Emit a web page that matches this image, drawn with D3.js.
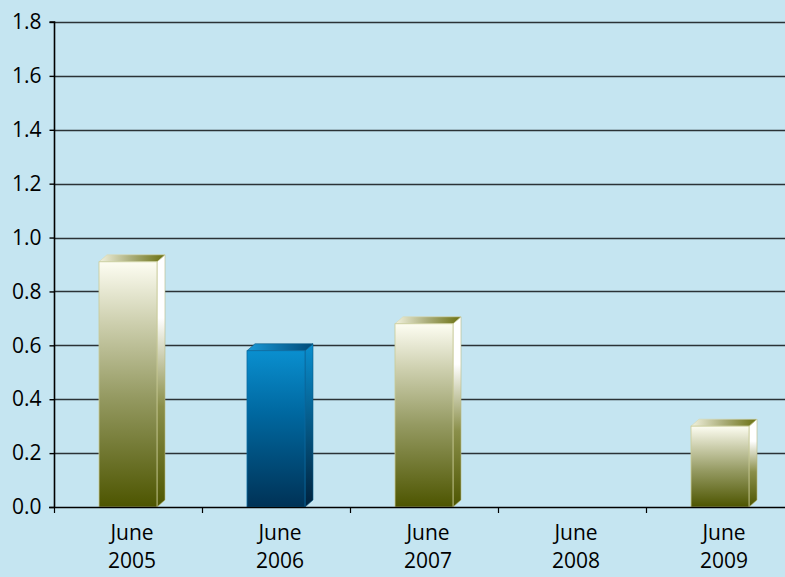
<!DOCTYPE html>
<html><head><meta charset="utf-8">
<script src="https://cdn.jsdelivr.net/npm/d3@7"></script>
<style>html,body{margin:0;padding:0;background:#c5e5f1;overflow:hidden}</style>
</head><body>
<script>
const categories = ["June 2005","June 2006","June 2007","June 2008","June 2009"];
const values = [0.91, 0.58, 0.68, null, 0.30];
const highlight = [false, true, false, false, false];
const yTicks = [0,0.2,0.4,0.6,0.8,1.0,1.2,1.4,1.6,1.8];

const W=785,H=577;
const svg=d3.select("body").append("svg").attr("width",W).attr("height",H);
svg.append("rect").attr("width",W).attr("height",H).attr("fill","#c5e5f1");
const m={l:54,t:22,b:507,r:794};
const x=d3.scaleBand().domain(categories).range([m.l,m.r]).paddingInner(0).paddingOuter(0);
const y=d3.scaleLinear().domain([0,1.8]).range([m.b,m.t]);

const defs=svg.append("defs");
function lg(id,x1,y1,x2,y2,stops){const g=defs.append("linearGradient").attr("id",id).attr("x1",x1).attr("y1",y1).attr("x2",x2).attr("y2",y2);
 stops.forEach(s=>g.append("stop").attr("offset",s[0]).attr("stop-color",s[1]));}
lg("oF",0,0,0,1,[[0,"#fdfdf2"],[0.25,"#cdcfae"],[0.55,"#959a62"],[1,"#4d5500"]]);
lg("oS",0,0,0,1,[[0,"#ffffff"],[0.25,"#ffffff"],[0.6,"#8a8f4a"],[1,"#4d5500"]]);
lg("oT",0,0,1,0,[[0,"#f2f2de"],[0.5,"#a9ac78"],[1,"#6a7010"]]);
lg("bF",0,0,0,1,[[0,"#0a8fcf"],[0.4,"#0068a0"],[1,"#003256"]]);
lg("bS",0,0,0,1,[[0,"#0a8fcf"],[1,"#00223d"]]);
lg("bT",0,0,1,0,[[0,"#1a9ad8"],[1,"#004a78"]]);

const FONT="'Open Sans',sans-serif", FS=21;

// gridlines
svg.append("g").selectAll("line").data(yTicks.filter(d=>d>0)).join("line")
 .attr("x1",m.l).attr("x2",W).attr("y1",d=>Math.round(y(d))+0.5).attr("y2",d=>Math.round(y(d))+0.5)
 .attr("stroke","#2b3236").attr("stroke-width",1.6);

// y axis
const ya=svg.append("g").attr("transform",`translate(${m.l+0.5},0)`).call(d3.axisLeft(y).tickValues(yTicks).tickFormat(d3.format(".1f")).tickSize(5).tickPadding(8));
ya.attr("font-size",null).attr("font-family",null);
ya.select(".domain").attr("stroke","#000").attr("stroke-width",1.6).attr("d",`M-5,${m.t}H0V${m.b}`);
ya.selectAll(".tick line").attr("stroke","#000").attr("stroke-width",1.4);
ya.selectAll("text").style("font-family",FONT).style("font-size",FS+"px").attr("fill","#000");

// bars
const fw=58, dx=8, dy=7;
const bars=svg.append("g");
categories.forEach((c,i)=>{
 const v=values[i]; if(v==null) return;
 const cx=x(c)+x.bandwidth()/2, x0=cx-fw/2, x1=cx+fw/2, yt=y(v), yb=y(0);
 const hl=highlight[i];
 const g=bars.append("g");
 g.append("path").attr("d",`M${x1},${yt}L${x1+dx},${yt-dy}L${x1+dx},${yb-dy}L${x1},${yb}Z`).attr("fill",`url(#${hl?"bS":"oS"})`).attr("stroke",hl?"#0c5a86":"#b8bb80").attr("stroke-width",0.6);
 g.append("path").attr("d",`M${x0},${yt}L${x0+dx},${yt-dy}L${x1+dx},${yt-dy}L${x1},${yt}Z`).attr("fill",`url(#${hl?"bT":"oT"})`).attr("stroke",hl?"#0c5a86":"#d8d9b0").attr("stroke-width",0.6);
 g.append("rect").attr("x",x0).attr("y",yt).attr("width",fw).attr("height",yb-yt).attr("fill",`url(#${hl?"bF":"oF"})`).attr("stroke",hl?"#0b6aa0":"#c9cb96").attr("stroke-width",0.8);
});

// x axis
svg.append("line").attr("x1",m.l-5).attr("x2",W).attr("y1",m.b+0.5).attr("y2",m.b+0.5).attr("stroke","#000").attr("stroke-width",1.6);
const xa=svg.append("g");
const bounds=categories.map(c=>x(c)).concat([x(categories[categories.length-1])+x.bandwidth()]);
xa.selectAll("line").data(bounds).join("line").attr("x1",d=>d+0.5).attr("x2",d=>d+0.5).attr("y1",m.b).attr("y2",m.b+6).attr("stroke","#000").attr("stroke-width",1.2);
categories.forEach(c=>{
 const parts=c.split(" ");
 const cx=x(c)+x.bandwidth()/2+4;
 const t=xa.append("text").attr("text-anchor","middle").style("font-family",FONT).style("font-size",FS+"px").attr("fill","#000");
 t.append("tspan").attr("x",cx).attr("y",540).text(parts[0]);
 t.append("tspan").attr("x",cx).attr("y",568).text(parts[1]);
});
</script>
</body></html>
